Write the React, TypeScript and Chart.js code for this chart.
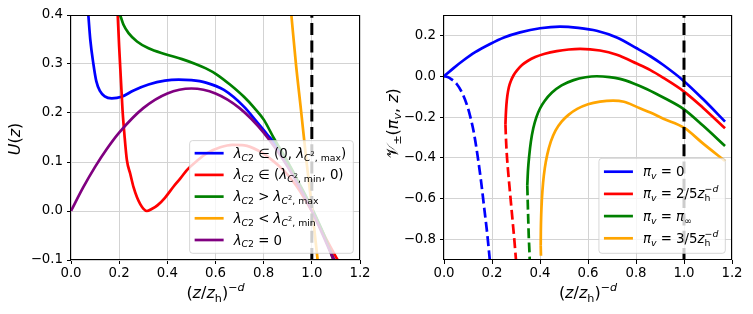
import React, { useEffect, useRef } from "react";
import { Chart, registerables } from "chart.js";
Chart.register(...registerables);

const FONT = '"DejaVu Sans", "Liberation Sans", sans-serif';
const TICK_FS = 13.33;
const LABEL_FS = 16;
const LEGEND_FS = 13.33;
const LINE_W = 2.7;

const BLUE = "#0000ff";
const RED = "#ff0000";
const GREEN = "#008000";
const ORANGE = "#ffa500";
const PURPLE = "#800080";

// ---------------- Left panel: U(z) ----------------
const U_X_RANGE = [0, 1.2];
const U_Y_RANGE = [-0.1, 0.4];
const U_X_TICKS = [0, 0.2, 0.4, 0.6, 0.8, 1.0, 1.2];
const U_Y_TICKS = [-0.1, 0, 0.1, 0.2, 0.3, 0.4];
const HORIZON_X = 1.0;

const U_BLUE_X = [0.072, 0.08, 0.093, 0.105, 0.12, 0.14, 0.169, 0.21, 0.26, 0.322, 0.39, 0.447, 0.5, 0.56, 0.635, 0.718, 0.77, 0.815, 0.843, 0.9, 0.95, 1.0, 1.05, 1.093];
const U_BLUE_Y = [0.4, 0.35, 0.3, 0.265, 0.245, 0.234, 0.23, 0.233, 0.246, 0.258, 0.266, 0.268, 0.267, 0.262, 0.247, 0.213, 0.183, 0.156, 0.14, 0.097, 0.052, 0.005, -0.05, -0.1];

const U_RED_X = [0.194, 0.2, 0.207, 0.214, 0.222, 0.232, 0.246, 0.26, 0.274, 0.2875, 0.3, 0.315, 0.335, 0.36, 0.39, 0.426, 0.455, 0.482, 0.52, 0.565, 0.62, 0.67, 0.72, 0.775, 0.83, 0.885, 0.935, 0.97, 1.0, 1.05, 1.107];
const U_RED_Y = [0.4, 0.335, 0.27, 0.206, 0.155, 0.104, 0.076, 0.048, 0.028, 0.014, 0.005, 0.0, 0.004, 0.012, 0.027, 0.05, 0.067, 0.084, 0.101, 0.118, 0.13, 0.135, 0.134, 0.124, 0.106, 0.082, 0.052, 0.025, 0.0, -0.048, -0.1];

const U_GREEN_X = [0.204, 0.218, 0.239, 0.274, 0.322, 0.392, 0.461, 0.517, 0.56, 0.607, 0.66, 0.718, 0.76, 0.801, 0.843, 0.9, 0.95, 1.0, 1.05, 1.09];
const U_GREEN_Y = [0.4, 0.38, 0.363, 0.346, 0.332, 0.32, 0.31, 0.3, 0.291, 0.278, 0.258, 0.233, 0.211, 0.186, 0.148, 0.1, 0.054, 0.006, -0.048, -0.1];

const U_ORANGE_X = [0.915, 0.934, 0.955, 0.978, 1.002, 1.024];
const U_ORANGE_Y = [0.4, 0.3, 0.206, 0.1, 0.0, -0.1];

const U_PURPLE_X = [0, 0.05, 0.1, 0.15, 0.2, 0.3, 0.4, 0.5, 0.6, 0.7, 0.8, 0.9, 1.0, 1.1];
const U_PURPLE_Y = [0, 0.0475, 0.09, 0.1275, 0.16, 0.21, 0.24, 0.25, 0.24, 0.21, 0.16, 0.09, 0.0, -0.11];

// ---------------- Right panel: V±(πv, z) ----------------
const V_X_RANGE = [0, 1.2];
const V_Y_RANGE = [-0.9, 0.3];
const V_X_TICKS = [0, 0.2, 0.4, 0.6, 0.8, 1.0, 1.2];
const V_Y_TICKS = [-0.8, -0.6, -0.4, -0.2, 0, 0.2];

const V_BLUE_X = [0, 0.04, 0.08, 0.13, 0.192, 0.25, 0.317, 0.4, 0.483, 0.56, 0.636, 0.72, 0.803, 0.86, 0.914, 1.0, 1.08, 1.171];
const V_BLUE_Y = [0, 0.04, 0.077, 0.118, 0.158, 0.19, 0.215, 0.235, 0.243, 0.237, 0.223, 0.19, 0.137, 0.098, 0.055, -0.024, -0.113, -0.222];
const V_BLUE_DASH_X = [0, 0.015, 0.03, 0.053, 0.075, 0.094, 0.11, 0.125, 0.14, 0.155, 0.168, 0.18, 0.19, 0.194];
const V_BLUE_DASH_Y = [0, -0.004, -0.014, -0.038, -0.08, -0.135, -0.2, -0.28, -0.39, -0.52, -0.65, -0.77, -0.89, -0.94];

const V_RED_X = [0.256, 0.2575, 0.26, 0.264, 0.27, 0.278, 0.29, 0.305, 0.325, 0.35, 0.38, 0.42, 0.47, 0.52, 0.567, 0.65, 0.72, 0.803, 0.86, 0.914, 1.0, 1.08, 1.171];
const V_RED_Y = [-0.235, -0.19, -0.14, -0.095, -0.055, -0.025, 0.005, 0.03, 0.055, 0.076, 0.094, 0.11, 0.123, 0.131, 0.134, 0.126, 0.105, 0.062, 0.03, -0.008, -0.075, -0.155, -0.255];
const V_RED_DASH_X = [0.256, 0.258, 0.261, 0.266, 0.272, 0.279, 0.286, 0.293, 0.3, 0.303];
const V_RED_DASH_Y = [-0.235, -0.3, -0.37, -0.45, -0.53, -0.62, -0.71, -0.8, -0.9, -0.94];

const V_GREEN_X = [0.347, 0.35, 0.355, 0.362, 0.372, 0.385, 0.4, 0.42, 0.45, 0.49, 0.54, 0.59, 0.636, 0.69, 0.733, 0.79, 0.844, 0.92, 1.0, 1.08, 1.171];
const V_GREEN_Y = [-0.534, -0.46, -0.39, -0.32, -0.255, -0.2, -0.158, -0.12, -0.08, -0.045, -0.019, -0.005, 0.0, -0.004, -0.013, -0.035, -0.062, -0.108, -0.162, -0.243, -0.342];
const V_GREEN_DASH_X = [0.347, 0.349, 0.351, 0.353, 0.356, 0.358];
const V_GREEN_DASH_Y = [-0.534, -0.62, -0.7, -0.78, -0.86, -0.93];

const V_ORANGE_X = [0.403, 0.4035, 0.405, 0.408, 0.413, 0.42, 0.43, 0.445, 0.465, 0.49, 0.52, 0.555, 0.6, 0.65, 0.705, 0.75, 0.803, 0.86, 0.914, 1.0, 1.08, 1.171];
const V_ORANGE_Y = [-0.83, -0.76, -0.68, -0.6, -0.52, -0.45, -0.385, -0.32, -0.265, -0.222, -0.188, -0.16, -0.137, -0.124, -0.119, -0.125, -0.15, -0.178, -0.208, -0.252, -0.33, -0.415];
const V_ORANGE_DASH_X = [0.403, 0.404, 0.405];
const V_ORANGE_DASH_Y = [-0.83, -0.88, -0.94];

// ---------------- rich text helpers ----------------
type Seg = { t: string; it?: boolean; s?: "sub" | "sup" | "subsup"; back?: boolean };

function segStyle(s: Seg, fs: number) {
  if (s.s === "sub") return { size: fs * 0.7, dy: fs * 0.22 };
  if (s.s === "sup") return { size: fs * 0.7, dy: -fs * 0.45 };
  if (s.s === "subsup") return { size: fs * 0.5, dy: -fs * 0.1 };
  return { size: fs, dy: 0 };
}

function richText(ctx: CanvasRenderingContext2D, segs: Seg[], x: number, y: number, fs: number, draw: boolean) {
  let cx = x;
  let prevStart = x;
  ctx.textBaseline = "alphabetic";
  ctx.textAlign = "left";
  for (const s of segs) {
    const st = segStyle(s, fs);
    ctx.font = `${s.it ? "italic " : ""}${st.size}px ${FONT}`;
    const w = ctx.measureText(s.t).width;
    const sx = s.back ? prevStart : cx;
    if (draw) ctx.fillText(s.t, sx, y + st.dy);
    prevStart = sx;
    cx = Math.max(cx, sx + w);
  }
  return cx - x;
}

const LAM: Seg[] = [{ t: "λ", it: true }, { t: "C", it: true, s: "sub" }, { t: "2", s: "sub" }];
const LAM_C2 = (tag: string): Seg[] => [{ t: "λ", it: true }, { t: "C", it: true, s: "sub" }, { t: "2", s: "subsup" }, { t: ", " + tag, s: "sub" }];
const PI_V: Seg[] = [{ t: "π", it: true }, { t: "v", it: true, s: "sub" }];
const ZH_D: Seg[] = [{ t: "z", it: true }, { t: "h", s: "sub" }, { t: "−", s: "sup", back: true }, { t: "d", it: true, s: "sup" }];

const U_LEGEND = [
  { color: BLUE, segs: [...LAM, { t: " ∈ (0, " }, ...LAM_C2("max"), { t: ")" }] },
  { color: RED, segs: [...LAM, { t: " ∈ (" }, ...LAM_C2("min"), { t: ", 0)" }] },
  { color: GREEN, segs: [...LAM, { t: " > " }, ...LAM_C2("max")] },
  { color: ORANGE, segs: [...LAM, { t: " < " }, ...LAM_C2("min")] },
  { color: PURPLE, segs: [...LAM, { t: " = 0" }] },
];
const V_LEGEND = [
  { color: BLUE, segs: [...PI_V, { t: " = 0" }] },
  { color: RED, segs: [...PI_V, { t: " = 2/5" }, ...ZH_D] },
  { color: GREEN, segs: [...PI_V, { t: " = " }, { t: "π", it: true }, { t: "∞", s: "sub" }] },
  { color: ORANGE, segs: [...PI_V, { t: " = 3/5" }, ...ZH_D] },
];

const X_TITLE: Seg[] = [{ t: "(" }, { t: "z", it: true }, { t: "/" }, { t: "z", it: true }, { t: "h", s: "sub" }, { t: ")" }, { t: "−", s: "sup" }, { t: "d", it: true, s: "sup" }];
const U_TITLE: Seg[] = [{ t: "U", it: true }, { t: "(" }, { t: "z", it: true }, { t: ")" }];
const V_TITLE: Seg[] = [{ t: "𝒱" }, { t: "±", s: "sub" }, { t: "(" }, { t: "π", it: true }, { t: "v", it: true, s: "sub" }, { t: ", " }, { t: "z", it: true }, { t: ")" }];

type LegendCfg = { rowH: number; padT: number; padB: number; margin: number; baseOff: number };

function drawLegend(ctx: CanvasRenderingContext2D, area: any, items: { color: string; segs: Seg[] }[], cfg: LegendCfg) {
  const padL = 5, handle = 29, gap = 10, padR = 7;
  const widths = items.map((it) => richText(ctx, it.segs, 0, 0, LEGEND_FS, false));
  const maxW = Math.max(...widths);
  const w = padL + handle + gap + maxW + padR;
  const h = cfg.padT + (items.length - 1) * cfg.rowH + cfg.padB;
  const right = area.right - cfg.margin;
  const bottom = area.bottom - cfg.margin;
  const left = right - w;
  const top = bottom - h;
  ctx.save();
  ctx.beginPath();
  if ((ctx as any).roundRect) (ctx as any).roundRect(left, top, w, h, 3);
  else ctx.rect(left, top, w, h);
  ctx.fillStyle = "rgba(255,255,255,0.8)";
  ctx.fill();
  ctx.strokeStyle = "rgba(204,204,204,0.8)";
  ctx.lineWidth = 1;
  ctx.stroke();
  items.forEach((it, i) => {
    const y = top + cfg.padT + i * cfg.rowH;
    ctx.strokeStyle = it.color;
    ctx.lineWidth = LINE_W;
    ctx.lineCap = "butt";
    ctx.setLineDash([]);
    ctx.beginPath();
    ctx.moveTo(left + padL, y);
    ctx.lineTo(left + padL + handle, y);
    ctx.stroke();
    ctx.fillStyle = "#000";
    richText(ctx, it.segs, left + padL + handle + gap, y + cfg.baseOff, LEGEND_FS, true);
  });
  ctx.restore();
}

function overlayPlugin(opts: {
  legend: { color: string; segs: Seg[] }[];
  legendCfg: LegendCfg;
  yTitle: Seg[];
  yTitleX: number;
  yTitleCY: number;
  xTitleBaseline: number;
}) {
  return {
    id: "overlay",
    afterDatasetsDraw(chart: any) {
      const ctx: CanvasRenderingContext2D = chart.ctx;
      const a = chart.chartArea;
      ctx.save();
      ctx.strokeStyle = "#000";
      ctx.lineWidth = 1;
      ctx.setLineDash([]);
      const L = Math.round(a.left) - 0.5, T = Math.round(a.top) + 0.5, R = Math.round(a.right) - 0.5, B = Math.round(a.bottom) - 0.5;
      ctx.strokeRect(L, T, R - L, B - T);
      ctx.restore();

      drawLegend(ctx, a, opts.legend, opts.legendCfg);

      ctx.save();
      ctx.fillStyle = "#000";
      const xw = richText(ctx, X_TITLE, 0, 0, LABEL_FS, false);
      richText(ctx, X_TITLE, (a.left + a.right) / 2 - xw / 2, opts.xTitleBaseline, LABEL_FS, true);
      const yw = richText(ctx, opts.yTitle, 0, 0, LABEL_FS, false);
      ctx.translate(opts.yTitleX, opts.yTitleCY);
      ctx.rotate(-Math.PI / 2);
      richText(ctx, opts.yTitle, -yw / 2, 0, LABEL_FS, true);
      ctx.restore();
    },
  };
}

const fmt = (v: number) => (Math.abs(v) < 1e-9 ? "0.0" : v.toFixed(1).replace("-", "−"));

function series(xs: number[], ys: number[], color: string, dash: number[] = []) {
  return {
    data: xs.map((x, i) => ({ x, y: ys[i] })),
    borderColor: color,
    backgroundColor: color,
    borderWidth: LINE_W,
    borderDash: dash,
    pointRadius: 0,
    showLine: true,
    fill: false,
    cubicInterpolationMode: "monotone",
  };
}

function vline(x: number, yr: number[]) {
  return {
    data: [{ x, y: yr[0] }, { x, y: yr[1] }],
    borderColor: "#000",
    backgroundColor: "#000",
    borderWidth: 3,
    borderDash: [12, 5.3],
    pointRadius: 0,
    showLine: true,
    fill: false,
    tension: 0,
  };
}

function makeConfig(p: {
  datasets: any[];
  xr: number[];
  yr: number[];
  xt: number[];
  yt: number[];
  yAxisW: number;
  padRight: number;
  plugin: any;
}) {
  const n = p.datasets.length;
  const ds = p.datasets.map((d, i) => ({ ...d, order: n - i }));
  const common = {
    grid: { color: "#d3d3d3", lineWidth: 1, drawTicks: true, tickLength: 4, tickColor: "#000", tickWidth: 1 },
    border: { display: false },
  };
  return {
    type: "scatter",
    data: { datasets: ds },
    options: {
      responsive: false,
      animation: false,
      events: [],
      layout: { padding: { left: 0, right: p.padRight, top: 15, bottom: 0 } },
      plugins: { legend: { display: false }, tooltip: { enabled: false } },
      scales: {
        x: {
          type: "linear",
          min: p.xr[0],
          max: p.xr[1],
          ...common,
          afterBuildTicks: (s: any) => {
            s.ticks = p.xt.map((v) => ({ value: v }));
          },
          afterFit: (s: any) => {
            s.height = 54;
          },
          ticks: { font: { family: FONT, size: TICK_FS }, color: "#000", padding: 2, maxRotation: 0, autoSkip: false, callback: (v: any) => fmt(Number(v)) },
        },
        y: {
          type: "linear",
          min: p.yr[0],
          max: p.yr[1],
          ...common,
          afterBuildTicks: (s: any) => {
            s.ticks = p.yt.map((v) => ({ value: v }));
          },
          afterFit: (s: any) => {
            s.width = p.yAxisW;
          },
          ticks: { font: { family: FONT, size: TICK_FS }, color: "#000", padding: 4, autoSkip: false, callback: (v: any) => fmt(Number(v)) },
        },
      },
    },
    plugins: [p.plugin],
  } as any;
}

export default function App() {
  const leftRef = useRef<HTMLCanvasElement>(null);
  const rightRef = useRef<HTMLCanvasElement>(null);

  useEffect(() => {
    const left = new Chart(
      leftRef.current as HTMLCanvasElement,
      makeConfig({
        datasets: [
          series(U_BLUE_X, U_BLUE_Y, BLUE),
          series(U_RED_X, U_RED_Y, RED),
          series(U_GREEN_X, U_GREEN_Y, GREEN),
          series(U_ORANGE_X, U_ORANGE_Y, ORANGE),
          series(U_PURPLE_X, U_PURPLE_Y, PURPLE),
          vline(HORIZON_X, U_Y_RANGE),
        ],
        xr: U_X_RANGE,
        yr: U_Y_RANGE,
        xt: U_X_TICKS,
        yt: U_Y_TICKS,
        yAxisW: 71,
        padRight: 16,
        plugin: overlayPlugin({
          legend: U_LEGEND,
          legendCfg: { rowH: 21.7, padT: 12.6, padB: 13.3, margin: 6.7, baseOff: 4.5 },
          yTitle: U_TITLE,
          yTitleX: 20,
          yTitleCY: 139,
          xTitleBaseline: 298,
        }),
      })
    );
    const right = new Chart(
      rightRef.current as HTMLCanvasElement,
      makeConfig({
        datasets: [
          series(V_BLUE_X, V_BLUE_Y, BLUE),
          series(V_BLUE_DASH_X, V_BLUE_DASH_Y, BLUE, [10, 4.3]),
          series(V_RED_X, V_RED_Y, RED),
          series(V_RED_DASH_X, V_RED_DASH_Y, RED, [10, 4.3]),
          series(V_GREEN_X, V_GREEN_Y, GREEN),
          series(V_GREEN_DASH_X, V_GREEN_DASH_Y, GREEN, [10, 4.3]),
          series(V_ORANGE_X, V_ORANGE_Y, ORANGE),
          series(V_ORANGE_DASH_X, V_ORANGE_DASH_Y, ORANGE, [10, 4.3]),
          vline(HORIZON_X, V_Y_RANGE),
        ],
        xr: V_X_RANGE,
        yr: V_Y_RANGE,
        xt: V_X_TICKS,
        yt: V_Y_TICKS,
        yAxisW: 68,
        padRight: 21,
        plugin: overlayPlugin({
          legend: V_LEGEND,
          legendCfg: { rowH: 22.2, padT: 13.4, padB: 15, margin: 6.7, baseOff: 4.5 },
          yTitle: V_TITLE,
          yTitleX: 21.5,
          yTitleCY: 123,
          xTitleBaseline: 298,
        }),
      })
    );
    return () => {
      left.destroy();
      right.destroy();
    };
  }, []);

  return (
    <div style={{ position: "fixed", left: 0, top: 0, width: 753, height: 314, background: "#fff" }}>
      <canvas ref={leftRef} width={376} height={314} style={{ position: "absolute", left: 0, top: 0 }} />
      <canvas ref={rightRef} width={377} height={314} style={{ position: "absolute", left: 376, top: 0 }} />
    </div>
  );
}
